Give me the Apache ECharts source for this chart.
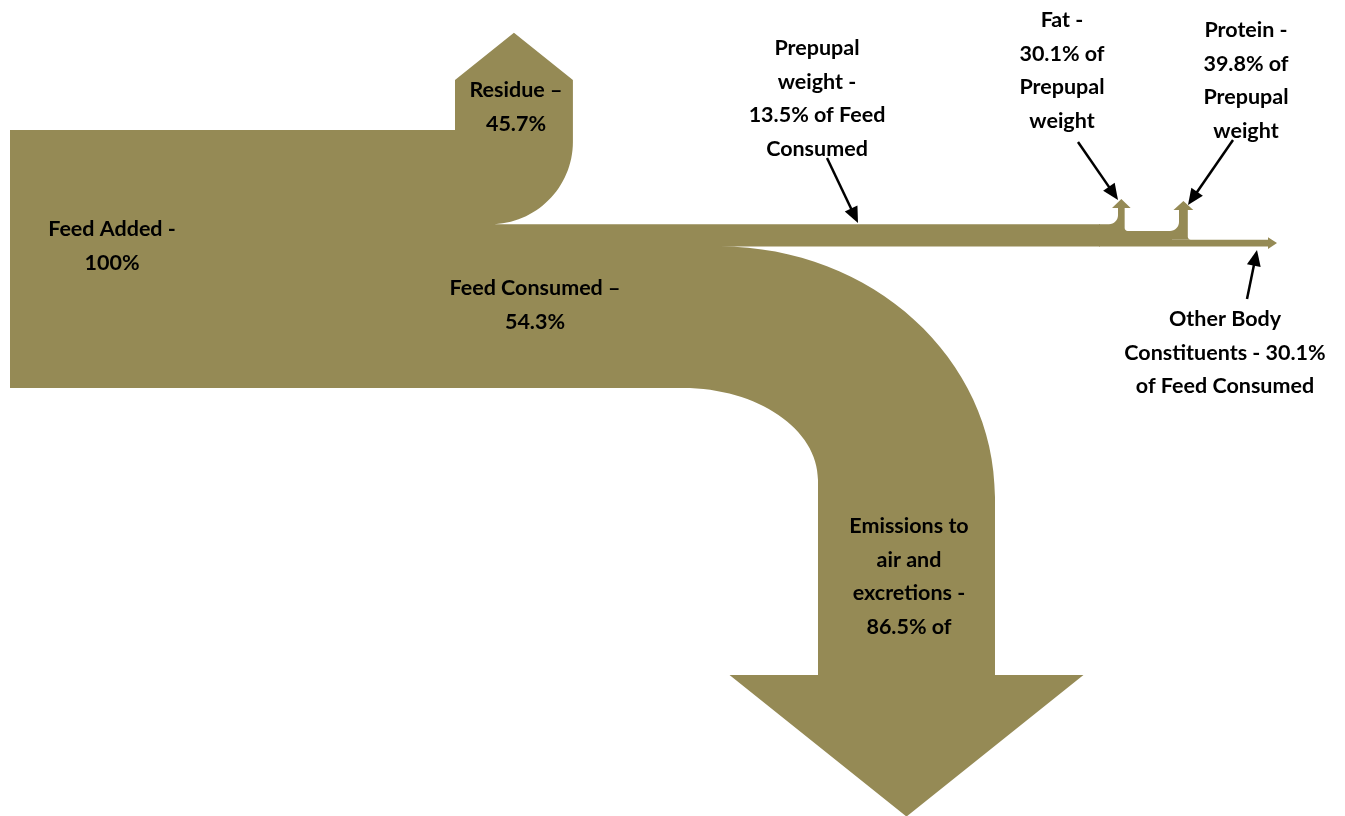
<!DOCTYPE html>
<html>
<head>
<meta charset="utf-8">
<script src="https://cdn.jsdelivr.net/npm/echarts@6/dist/echarts.min.js"></script>
<style>html,body{margin:0;padding:0;background:#fff;}#chart{width:1345px;height:816px;}</style>
</head>
<body>
<div id="chart"></div>
<script>
// ---- data (percentages) ----
const stages = ['Feed Added', 'Residue', 'Feed Consumed', 'Prepupal weight', 'Emissions to air and excretions', 'Fat', 'Protein', 'Other Body Constituents'];
const shareOfFeedAdded = [100, 45.7, 54.3];        // feed added, residue, feed consumed
const shareOfConsumed = [13.5, 86.5];               // prepupal weight, emissions
const shareOfPrepupal = [30.1, 39.8, 30.1];         // fat, protein, other body constituents

const labels = [
  ['Feed Added -', shareOfFeedAdded[0] + '%'],
  ['Residue \u2013', shareOfFeedAdded[1] + '%'],
  ['Feed Consumed \u2013', shareOfFeedAdded[2] + '%'],
  ['Prepupal', 'weight -', shareOfConsumed[0] + '% of Feed', 'Consumed'],
  ['Emissions to', 'air and', 'excretions -', shareOfConsumed[1] + '% of'],
  ['Fat -', shareOfPrepupal[0] + '% of', 'Prepupal', 'weight'],
  ['Protein -', shareOfPrepupal[1] + '% of', 'Prepupal', 'weight'],
  ['Other Body', 'Constituents - ' + shareOfPrepupal[2] + '%', 'of Feed Consumed']
];

const FILL = '#958a55';
const K = 0.5523;

function renderItem(params, api) {
  const P = (x, y) => { const c = api.coord([x, y]); return c[0].toFixed(2) + ' ' + c[1].toFixed(2); };
  const unit = 2.58; // axis units per percent of feed added
  const inTop = 130, inLeft = 10;
  const inH = shareOfFeedAdded[0] * unit;
  const inBot = inTop + inH;
  const resW = shareOfFeedAdded[1] * unit;
  const resL = 455, resR = resL + resW, resMid = (resL + resR) / 2;
  const resCornerY = inTop + resW * 0.1;
  const resRad = resW * 0.7;
  const consTop = resCornerY + resRad;
  const consH = inBot - consTop;
  const preH = consH * shareOfConsumed[0] / 100;
  const emiH = consH * shareOfConsumed[1] / 100;
  const preBot = consTop + preH;
  const emiOuterX = 720, emiInnerX = 683;
  const shaftW = emiH * 1.25;
  const shaftC = 906.5;
  const shaftL = shaftC - shaftW / 2, shaftR = shaftC + shaftW / 2;
  const outerEndY = 497, innerEndY = 480;
  const headY = 675;

  const hv = (x0, y0, x1, y1) => 'C ' + P(x0 + K * (x1 - x0), y0) + ' ' + P(x1, y1 - K * (y1 - y0)) + ' ' + P(x1, y1) + ' ';
  const vh = (x0, y0, x1, y1) => 'C ' + P(x0, y0 + K * (y1 - y0)) + ' ' + P(x1 - K * (x1 - x0), y1) + ' ' + P(x1, y1) + ' ';

  const fatBreak = 1100;
  let d = 'M ' + P(inLeft, inTop) + ' L ' + P(resL, inTop) + ' L ' + P(resL, inTop - 50) +
    ' L ' + P(resMid, inTop - 50 - resW * 0.4) + ' L ' + P(resR, inTop - 50) + ' L ' + P(resR, resCornerY) + ' ' +
    vh(resR, resCornerY, resR - resRad, consTop) +
    'L ' + P(fatBreak, consTop) + ' L ' + P(fatBreak, preBot) + ' L ' + P(emiOuterX, preBot) + ' ' +
    hv(emiOuterX, preBot, shaftR, outerEndY) +
    'L ' + P(shaftR, headY) + ' L ' + P(shaftC + shaftW, headY) + ' L ' + P(shaftC, headY + shaftW * 0.8) +
    ' L ' + P(shaftC - shaftW, headY) + ' L ' + P(shaftL, headY) + ' L ' + P(shaftL, innerEndY) + ' ' +
    vh(shaftL, innerEndY, emiInnerX, inBot) +
    'L ' + P(inLeft, inBot) + ' Z';

  const children = [{ type: 'path', shape: { pathData: d }, style: { fill: FILL } }];

  // branches off prepupal band
  const fatT = preH * shareOfPrepupal[0] / 100;
  const protT = preH * shareOfPrepupal[1] / 100;
  const othT = preH * shareOfPrepupal[2] / 100;
  function branch(xs, yTop, t, r, hy, flare, tipY, xStart) {
    const ri = 3;
    return 'M ' + P(xStart, yTop) + ' L ' + P(xs - r, yTop) + ' ' + hv(xs - r, yTop, xs, yTop - r) +
      'L ' + P(xs, hy) + ' L ' + P(xs - flare, hy) + ' L ' + P(xs + t / 2, tipY) + ' L ' + P(xs + t + flare, hy) +
      ' L ' + P(xs + t, hy) + ' L ' + P(xs + t, yTop + t - ri) + ' ' + vh(xs + t, yTop + t - ri, xs + t + ri, yTop + t) +
      'L ' + P(xStart, yTop + t) + ' Z';
  }
  const fatY = consTop, protY = consTop + fatT, othY = protY + protT;
  const tailEnd = 1268;
  children.push({ type: 'path', shape: { pathData: 'M ' + P(fatBreak - 1, protY) + ' L ' + P(1172, protY) + ' L ' + P(1172, othY) +
    ' L ' + P(tailEnd, othY) + ' L ' + P(tailEnd, othY - 2.5) + ' L ' + P(tailEnd + 9, othY + othT / 2) + ' L ' + P(tailEnd, preBot + 2.5) +
    ' L ' + P(tailEnd, preBot) + ' L ' + P(fatBreak - 1, preBot) + ' Z' }, style: { fill: FILL } });
  children.push({ type: 'path', shape: { pathData: branch(1118, fatY, fatT, 9, 208, 6, 199, fatBreak - 1) }, style: { fill: FILL } });
  children.push({ type: 'path', shape: { pathData: branch(1179, protY, protT, 9, 210, 5.5, 201, 1165) }, style: { fill: FILL } });

  // pointer arrows
  const pointers = [[827, 158, 858, 223], [1078, 142, 1118, 200], [1233, 140, 1188, 205], [1247, 299, 1257, 250]];
  pointers.forEach(function (p) {
    const a = api.coord([p[0], p[1]]), b = api.coord([p[2], p[3]]);
    const dx = b[0] - a[0], dy = b[1] - a[1], L = Math.hypot(dx, dy);
    const ux = dx / L, uy = dy / L, hl = 16, hw = 7;
    const bx = b[0] - ux * hl, by = b[1] - uy * hl;
    children.push({ type: 'line', shape: { x1: a[0], y1: a[1], x2: bx + ux, y2: by + uy }, style: { stroke: '#000', lineWidth: 2.5 } });
    children.push({ type: 'polygon', shape: { points: [[b[0], b[1]], [bx - uy * hw, by + ux * hw], [bx + uy * hw, by - ux * hw]] }, style: { fill: '#000' } });
  });

  // labels
  const pos = [[112, 229], [516, 90], [535, 288], [817, 48], [909, 526], [1062, 20], [1246, 30], [1225, 319]];
  labels.forEach(function (lines, i) {
    lines.forEach(function (t, j) {
      const c = api.coord([pos[i][0], pos[i][1] + j * 33.6]);
      children.push({ type: 'text', style: { text: t, x: c[0], y: c[1], fill: '#000', font: 'bold 21.5px Lato', textAlign: 'center', textVerticalAlign: 'middle' } });
    });
  });
  return { type: 'group', children: children };
}

const chart = echarts.init(document.getElementById('chart'), null, { renderer: 'canvas' });
chart.setOption({
  animation: false,
  backgroundColor: '#ffffff',
  grid: { left: 0, right: 0, top: 0, bottom: 0 },
  xAxis: { type: 'value', min: 0, max: 1345, show: false },
  yAxis: { type: 'value', min: 0, max: 816, inverse: true, show: false },
  series: [{ type: 'custom', name: stages.join(' / '), coordinateSystem: 'cartesian2d', data: [[0, 0]], renderItem: renderItem, clip: false }]
});
</script>
</body>
</html>
